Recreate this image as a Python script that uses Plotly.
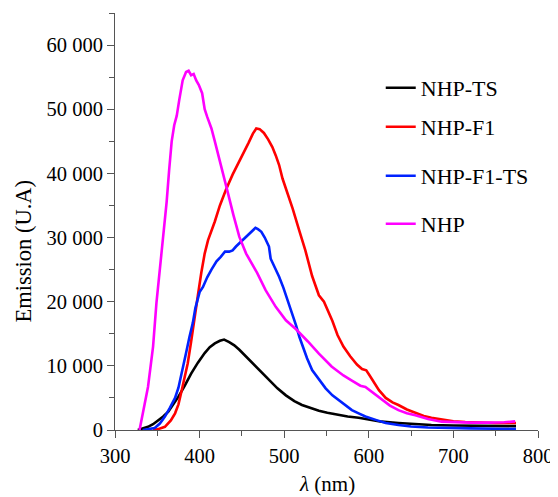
import plotly.graph_objects as go

# ---- data ----
nhp_ts_x = [327, 333, 339, 345, 351, 357, 363, 369, 375, 382, 390, 398, 406, 412, 418, 424, 429, 435, 441, 447,
            453, 458, 463, 472, 482, 492, 502, 512, 521, 531, 541, 551, 561, 575, 588, 600, 615, 635, 655, 674,
            700, 740, 774]
nhp_ts_y = [0, 200, 500, 900, 1500, 2100, 2850, 4000, 5200, 6800, 8800, 10500, 12000, 12900, 13500, 13900, 14100,
            13700, 13200, 12500, 11700, 11000, 10400, 9100, 7800, 6500, 5400, 4500, 3900, 3400, 3000, 2700, 2400,
            2100, 1900, 1600, 1300, 1100, 900, 780, 700, 650, 600]

nhp_f1_x = [345, 350, 359, 366, 371, 375, 378, 382, 386, 390, 394, 398, 402, 406, 410, 414, 418, 424, 431, 439,
            447, 453, 458, 463, 467, 471, 476, 481, 486, 490, 494, 498, 503, 510, 518, 525, 533, 541, 547, 552,
            557, 563, 570, 578, 586, 592, 597, 601, 606, 612, 620, 628, 635, 645, 655, 665, 674, 688, 700, 714,
            730, 750, 774]
nhp_f1_y = [0, 100, 500, 1500, 2600, 4000, 5700, 8000, 10400, 13800, 17100, 21000, 24500, 27500, 29600, 31000,
            32500, 35000, 37400, 39800, 41800, 43500, 44800, 46200, 47000, 46900, 46300, 45300, 44100, 42800,
            41300, 39200, 37300, 34500, 31000, 28000, 24000, 21000, 20000, 18500, 17000, 14800, 13000, 11500,
            10200, 9500, 9300, 8500, 7500, 6200, 5000, 4300, 3900, 3200, 2700, 2200, 1900, 1550, 1350, 1250,
            1150, 1100, 1100]

nhp_f1_ts_x = [333, 340, 347, 353, 359, 365, 371, 375, 378, 381, 384, 388, 392, 395, 398, 400, 404, 409, 414,
               420, 425, 430, 435, 439, 443, 447, 451, 456, 461, 466, 469, 473, 477, 482, 484, 489, 494, 499,
               504, 509, 514, 518, 522, 527, 533, 541, 549, 557, 565, 572, 580, 588, 596, 610, 620, 635, 650,
               670, 694, 720, 750, 774]
nhp_f1_ts_y = [0, 100, 300, 1000, 2100, 3500, 5000, 6600, 8300, 10000, 12000, 14500, 16700, 19000, 20800, 21500,
               22300, 23800, 25000, 26300, 27000, 27800, 27800, 28000, 28600, 29100, 29700, 30300, 31000, 31500,
               31300, 30900, 30000, 28600, 26700, 25300, 23900, 22200, 20300, 18200, 16300, 14500, 13000, 11200,
               9350, 8000, 6500, 5400, 4600, 3800, 3100, 2600, 2100, 1500, 1100, 780, 550, 400, 300, 250, 200, 150]

nhp_x = [329, 331, 335, 339, 345, 349, 353, 357, 361, 364, 367, 370, 373, 376, 380, 384, 387, 390, 393, 396,
         399, 403, 406, 409, 414, 418, 423, 428, 433, 440, 447, 455, 462, 468, 478, 490, 502, 514, 528, 541,
         556, 570, 580, 590, 596, 600, 607, 615, 625, 635, 645, 655, 670, 686, 700, 720, 740, 760, 773]
nhp_y = [0, 1500, 4000, 6700, 13000, 19800, 24900, 30000, 35500, 40500, 45000, 47500, 49000, 51500, 54500,
         55800, 56000, 55300, 55500, 54500, 53800, 52500, 50000, 48800, 47000, 45000, 42500, 40000, 37200,
         33500, 30100, 27500, 25800, 24500, 21800, 19200, 17100, 15700, 13800, 11900, 9900, 8500, 7700, 6900,
         6700, 6300, 5500, 4700, 3800, 3100, 2600, 2300, 1700, 1300, 1200, 1150, 1150, 1200, 1350]

series_names = ["NHP-TS", "NHP-F1", "NHP-F1-TS", "NHP"]
series_colors = ["#000000", "#ff0000", "#0022ff", "#ff00ff"]

x_tick_vals = [300, 400, 500, 600, 700, 800]
x_tick_text = ["300", "400", "500", "600", "700", "800"]
y_tick_vals = [0, 10000, 20000, 30000, 40000, 50000, 60000]
y_tick_text = ["0", "10 000", "20 000", "30 000", "40 000", "50 000", "60 000"]

FONT = "'Liberation Serif', 'Times New Roman', serif"

xs = [nhp_ts_x, nhp_f1_x, nhp_f1_ts_x, nhp_x]
ys = [nhp_ts_y, nhp_f1_y, nhp_f1_ts_y, nhp_y]
legend_ids = ["legend", "legend2", "legend3", "legend4"]

fig = go.Figure()
for name, color, x, y, lg in zip(series_names, series_colors, xs, ys, legend_ids):
    fig.add_trace(go.Scatter(x=x, y=y, mode="lines", name=name, legend=lg,
                             line=dict(color=color, width=2.6)))

# The page body adds an 8px margin, so the figure is drawn 8px in from the window corner.
OFF = 8
WIN_W, WIN_H = 558, 497
W, H = WIN_W - OFF, WIN_H - OFF
# plot area in window pixels: x 115..540, y 13..430
ml = 115 - OFF
mt = 13 - OFF
mr = W - (540 - OFF)
mb = H - (430 - OFF)
pw, ph = W - ml - mr, H - mt - mb

def py_paper(py):
    return (430 - py) / ph

def px_paper(px):
    return (px - 115) / pw

legend_rows_px = [88, 127, 176, 224]
legend_common = dict(font=dict(family=FONT, size=22, color="#000000"), bgcolor="rgba(0,0,0,0)",
                     borderwidth=0, xanchor="left", yanchor="middle", x=px_paper(382))
layout_legends = {}
for lg, py in zip(legend_ids, legend_rows_px):
    layout_legends[lg] = dict(legend_common, y=py_paper(py))

axis_common = dict(showline=True, linecolor="#555555", linewidth=1, ticks="outside", ticklen=7,
                   tickcolor="#555555", tickwidth=1, showgrid=False, zeroline=False,
                   tickfont=dict(family=FONT, size=20.5, color="#000000"))

fig.update_layout(
    width=W, height=H,
    margin=dict(l=ml, r=mr, t=mt, b=mb, pad=0),
    paper_bgcolor="white", plot_bgcolor="white",
    font=dict(family=FONT, color="#000000"),
    showlegend=True,
    xaxis=dict(axis_common, range=[300, 800], tickvals=x_tick_vals, ticktext=x_tick_text,
               minor=dict(ticks="outside", ticklen=5, dtick=50, tick0=300, tickcolor="#555555")),
    yaxis=dict(axis_common, range=[0, 65000], tickvals=y_tick_vals, ticktext=y_tick_text,
               minor=dict(ticks="outside", ticklen=5, dtick=5000, tick0=0, tickcolor="#555555")),
    **layout_legends,
)

fig.add_annotation(text="Emission (U.A)", textangle=-90, showarrow=False,
                   xref="paper", yref="paper", x=px_paper(23), y=py_paper(251),
                   xanchor="center", yanchor="middle",
                   font=dict(family=FONT, size=22.5, color="#000000"))
fig.add_annotation(text="<i>λ</i> (nm)", showarrow=False,
                   xref="paper", yref="paper", x=px_paper(328), y=py_paper(484),
                   xanchor="center", yanchor="middle",
                   font=dict(family=FONT, size=21, color="#000000"))

fig.write_html("out.html")
